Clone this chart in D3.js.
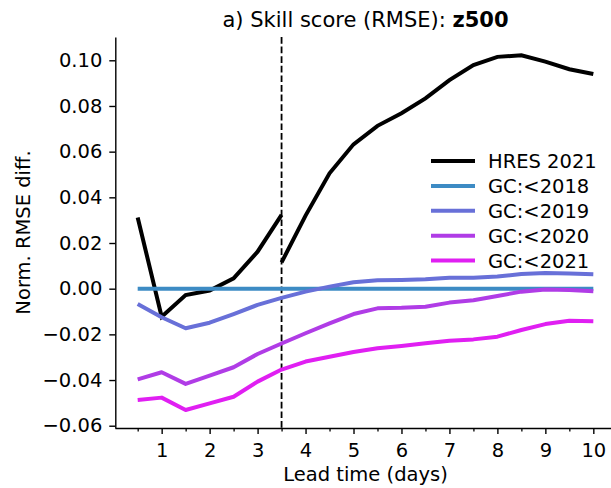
<!DOCTYPE html>
<html>
<head>
<meta charset="utf-8">
<script src="https://cdn.jsdelivr.net/npm/d3@7"></script>
<style>
  html, body { margin: 0; padding: 0; background: #fff; }
  svg { display: block; font-family: "DejaVu Sans", sans-serif; }
</style>
</head>
<body>
<svg id="chart" width="611" height="488"></svg>
<script>
// ---------- data ----------
const leadTimes = [0.5,1,1.5,2,2.5,3,3.5,4,4.5,5,5.5,6,6.5,7,7.5,8,8.5,9,9.5,10];
const hresPart1Days = [0.5,1,1.5,2,2.5,3,3.5];
const hresPart1 = [0.0312,-0.0123,-0.0028,-0.0008,0.0045,0.0162,0.0323];
const hresPart2Days = [3.5,4,4.5,5,5.5,6,6.5,7,7.5,8,8.5,9,9.5,10];
const hresPart2 = [0.0115,0.0320,0.0505,0.0632,0.0713,0.0768,0.0833,0.0913,0.0979,0.1015,0.1022,0.0994,0.0961,0.0940];
const gc2018 = [0,0,0,0,0,0,0,0,0,0,0,0,0,0,0,0,0,0,0,0];
const gc2019 = [-0.0067,-0.0125,-0.0173,-0.0149,-0.0111,-0.0071,-0.0040,-0.0013,0.0009,0.0028,0.0037,0.0038,0.0041,0.0048,0.0048,0.0053,0.0064,0.0069,0.0067,0.0063];
const gc2020 = [-0.0397,-0.0366,-0.0417,-0.0381,-0.0344,-0.0286,-0.0240,-0.0195,-0.0152,-0.0111,-0.0086,-0.0084,-0.0079,-0.0061,-0.0051,-0.0032,-0.0013,-0.0004,-0.0006,-0.0011];
const gc2021 = [-0.0487,-0.0477,-0.0531,-0.0502,-0.0473,-0.0407,-0.0354,-0.0319,-0.0298,-0.0277,-0.0261,-0.0251,-0.0239,-0.0228,-0.0222,-0.0210,-0.0181,-0.0155,-0.0140,-0.0143];
const seriesNames = ["HRES 2021","GC:<2018","GC:<2019","GC:<2020","GC:<2021"];
const seriesColors = ["#000000","#3d8bc4","#6870d8","#b03ce6","#e01ff2"];
const xTickValues = [1,2,3,4,5,6,7,8,9,10];
const xMinorTickValues = [0.5,1.5,2.5,3.5,4.5,5.5,6.5,7.5,8.5,9.5];
const yTickValues = [-0.06,-0.04,-0.02,0.00,0.02,0.04,0.06,0.08,0.10];
const initDay = 3.5;

// ---------- layout ----------
const svg = d3.select("#chart");
const x = d3.scaleLinear().domain([0.025, 10.475]).range([114.9, 616.1]);
const y = d3.scaleLinear().domain([-0.061, 0.1102]).range([428, 37]);
const LW = 4;

// axes
const gx = svg.append("g").attr("transform", "translate(0,428)")
  .call(d3.axisBottom(x).tickValues(xTickValues).tickFormat(d3.format("d")).tickSize(6).tickPadding(9).tickSizeOuter(0));
svg.append("g").attr("transform", "translate(0,428)")
  .call(d3.axisBottom(x).tickValues(xMinorTickValues).tickFormat("").tickSize(3.5).tickSizeOuter(0))
  .call(g => g.select(".domain").remove())
  .selectAll("line").attr("stroke-width", 1.3);
const gy = svg.append("g").attr("transform", "translate(115.3,0)")
  .call(d3.axisLeft(y).tickValues(yTickValues).tickFormat(d3.format(".2f")).tickSize(6).tickPadding(7).tickSizeOuter(0));
[gx, gy].forEach(g => {
  g.select(".domain").attr("stroke-width", 1.4);
  g.selectAll(".tick line").attr("stroke-width", 1.4);
  g.selectAll(".tick text").attr("font-size", 19.5).attr("fill", "#000").attr("font-family", "DejaVu Sans");
});

// dashed init line
svg.append("line")
  .attr("x1", x(initDay)).attr("x2", x(initDay))
  .attr("y1", y.range()[1]).attr("y2", y.range()[0])
  .attr("stroke", "#000").attr("stroke-width", 1.8).attr("stroke-dasharray", "6.7,2.9");

// lines
const line = d3.line().x(d => x(d[0])).y(d => y(d[1]));
const plotG = svg.append("g");
plotG.append("path").datum(hresPart1Days.map((d,i)=>[d,hresPart1[i]]))
  .attr("d", line).attr("fill","none").attr("stroke", seriesColors[0]).attr("stroke-width", LW);
plotG.append("path").datum(hresPart2Days.map((d,i)=>[d,hresPart2[i]]))
  .attr("d", line).attr("fill","none").attr("stroke", seriesColors[0]).attr("stroke-width", LW);
[gc2018, gc2019, gc2020, gc2021].forEach((s, k) => {
  plotG.append("path").datum(leadTimes.map((d,i)=>[d,s[i]]))
    .attr("d", line).attr("fill","none").attr("stroke", seriesColors[k+1]).attr("stroke-width", LW)
    .attr("stroke-linejoin","round");
});

// legend
const legend = svg.append("g");
seriesNames.forEach((name, i) => {
  const yy = 161 + i * 24.9;
  legend.append("line").attr("x1", 431).attr("x2", 475).attr("y1", yy).attr("y2", yy)
    .attr("stroke", seriesColors[i]).attr("stroke-width", LW);
  legend.append("text").attr("x", 488).attr("y", yy).attr("dy", "0.36em")
    .attr("font-size", 19.5).attr("fill", "#000").text(name);
});

// title
const title = svg.append("text").attr("x", 365.5).attr("y", 27).attr("text-anchor", "middle")
  .attr("font-size", 21).attr("fill", "#000");
title.append("tspan").text("a) Skill score (RMSE): ");
title.append("tspan").attr("font-weight", "bold").text("z500");

// axis labels
svg.append("text").attr("x", 365.5).attr("y", 481).attr("text-anchor", "middle")
  .attr("font-size", 19.5).attr("fill", "#000").text("Lead time (days)");
svg.append("text").attr("transform", "translate(23,232.5) rotate(-90)")
  .attr("text-anchor", "middle").attr("dy", "0.36em")
  .attr("font-size", 19.5).attr("fill", "#000").text("Norm. RMSE diff.");
</script>
</body>
</html>
